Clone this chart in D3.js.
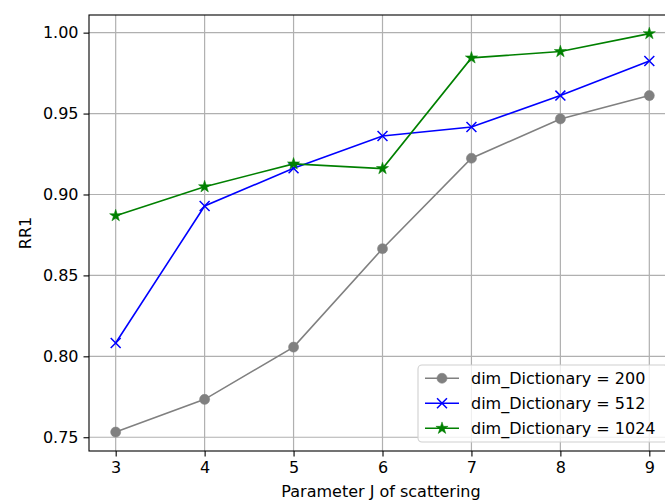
<!DOCTYPE html>
<html>
<head>
<meta charset="utf-8">
<script src="https://cdn.jsdelivr.net/npm/d3@7"></script>
<style>
  body { margin: 0; background: #fff; }
  svg text { font-family: "DejaVu Sans", sans-serif; fill: #000; }
</style>
</head>
<body>
<div id="chart"></div>
<script>
// data
var jValues = [3, 4, 5, 6, 7, 8, 9];
var dict200 = [0.7532, 0.7734, 0.8057, 0.8665, 0.9224, 0.9467, 0.9611];
var dict512 = [0.8082, 0.8929, 0.9162, 0.9361, 0.9417, 0.9611, 0.9825];
var dict1024 = [0.8869, 0.9048, 0.9189, 0.9160, 0.9844, 0.9883, 0.9994];
var seriesNames = ["dim_Dictionary = 200", "dim_Dictionary = 512", "dim_Dictionary = 1024"];
var yTicks = [0.75, 0.80, 0.85, 0.90, 0.95, 1.00];

var W = 665, H = 503;
var plotLeft = 89, plotTop = 15, plotRight = 676, plotBottom = 451;
var fs = 16;

var svg = d3.select("#chart").append("svg")
    .attr("width", W)
    .attr("height", H);

var x = d3.scaleLinear().domain([2.7, 9.3]).range([plotLeft, plotRight]);
var y = d3.scaleLinear().domain([0.7415, 1.0109]).range([plotBottom, plotTop]);

// grid
var grid = svg.append("g");
jValues.forEach(function (j) {
    grid.append("line")
        .attr("x1", x(j)).attr("x2", x(j))
        .attr("y1", plotTop).attr("y2", plotBottom)
        .attr("stroke", "#b0b0b0").attr("stroke-width", 1.2);
});
yTicks.forEach(function (t) {
    grid.append("line")
        .attr("x1", plotLeft).attr("x2", plotRight)
        .attr("y1", y(t)).attr("y2", y(t))
        .attr("stroke", "#b0b0b0").attr("stroke-width", 1.2);
});

// axes
var xAxis = svg.append("g")
    .attr("transform", "translate(0," + plotBottom + ")")
    .call(d3.axisBottom(x).tickValues(jValues).tickSize(5.5).tickPadding(5).tickFormat(d3.format("d")));
var yAxis = svg.append("g")
    .attr("transform", "translate(" + plotLeft + ",0)")
    .call(d3.axisLeft(y).tickValues(yTicks).tickSize(5.5).tickPadding(5).tickFormat(d3.format(".2f")));
[xAxis, yAxis].forEach(function (a) {
    a.select(".domain").remove();
    a.selectAll("line").attr("stroke", "#000").attr("stroke-width", 1.1);
    a.selectAll("text").style("font-size", fs + "px").style("font-family", "DejaVu Sans").attr("fill", "#000");
});

// frame
svg.append("rect")
    .attr("x", plotLeft).attr("y", plotTop)
    .attr("width", plotRight - plotLeft).attr("height", plotBottom - plotTop)
    .attr("fill", "none").attr("stroke", "#000").attr("stroke-width", 1.1);

// labels
svg.append("text")
    .attr("x", 381)
    .attr("y", 497)
    .attr("text-anchor", "middle")
    .style("font-size", fs + "px")
    .text("Parameter J of scattering");
svg.append("text")
    .attr("transform", "translate(31," + (plotTop + plotBottom) / 2 + ") rotate(-90)")
    .attr("text-anchor", "middle")
    .style("font-size", fs + "px")
    .text("RR1");

// series
var series = [
    { values: dict200, color: "#808080", symbol: d3.symbolCircle, size: 80, filled: true },
    { values: dict512, color: "#0000ff", symbol: d3.symbolX, size: 66, filled: false },
    { values: dict1024, color: "#008000", symbol: d3.symbolStar, size: 46, filled: true }
];

var line = d3.line()
    .x(function (d, i) { return x(jValues[i]); })
    .y(function (d) { return y(d); });

series.forEach(function (s) {
    svg.append("path")
        .attr("d", line(s.values))
        .attr("fill", "none")
        .attr("stroke", s.color)
        .attr("stroke-width", 1.6);
    svg.selectAll(null)
        .data(s.values)
        .enter().append("path")
        .attr("transform", function (d, i) { return "translate(" + x(jValues[i]) + "," + y(d) + ")"; })
        .attr("d", d3.symbol().type(s.symbol).size(s.size))
        .attr("fill", s.filled ? s.color : "none")
        .attr("stroke", s.color)
        .attr("stroke-width", s.filled ? 0.5 : 1.5);
});

// legend
var legend = svg.append("g");
legend.append("rect")
    .attr("x", 418).attr("y", 365)
    .attr("width", 250).attr("height", 77)
    .attr("rx", 4)
    .attr("fill", "#fff").attr("fill-opacity", 0.8)
    .attr("stroke", "#d0d0d0").attr("stroke-width", 1.1);
series.forEach(function (s, i) {
    var cy = 378.3 + i * 25;
    legend.append("line")
        .attr("x1", 425).attr("x2", 459)
        .attr("y1", cy).attr("y2", cy)
        .attr("stroke", s.color).attr("stroke-width", 1.6);
    legend.append("path")
        .attr("transform", "translate(442," + cy + ")")
        .attr("d", d3.symbol().type(s.symbol).size(s.size))
        .attr("fill", s.filled ? s.color : "none")
        .attr("stroke", s.color)
        .attr("stroke-width", s.filled ? 0.5 : 1.5);
    legend.append("text")
        .attr("x", 471)
        .attr("y", cy + 5.5)
        .style("font-size", fs + "px")
        .text(seriesNames[i]);
});
</script>
</body>
</html>
